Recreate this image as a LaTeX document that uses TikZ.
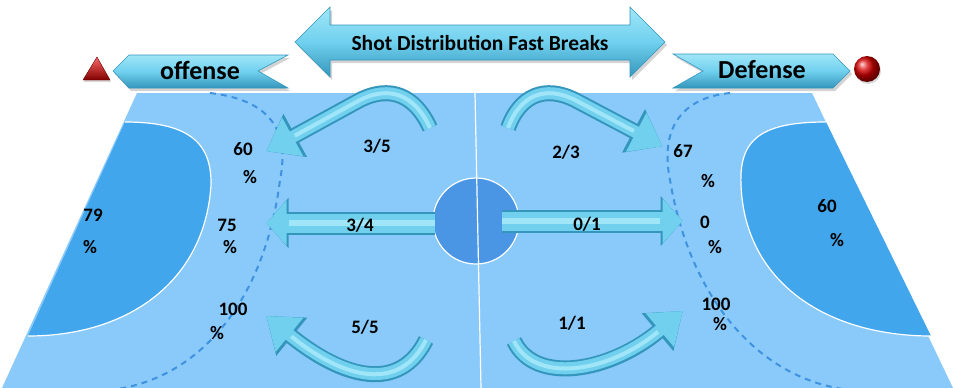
\documentclass[tikz,border=0pt]{standalone}
\usepackage{fontspec}
\setmainfont{Carlito}
\usetikzlibrary{arrows.meta,shadows}
\definecolor{court}{RGB}{138,202,250}
\definecolor{goal}{RGB}{66,166,236}
\definecolor{centre}{RGB}{74,150,228}
\definecolor{nine}{RGB}{62,146,224}
\definecolor{arrowlite}{RGB}{160,230,248}
\definecolor{arrowmid}{RGB}{112,208,238}
\definecolor{arrowedge}{RGB}{52,150,188}
\begin{document}
\begin{tikzpicture}[x=1pt,y=-1pt,
    banner/.style={top color=arrowlite,bottom color=arrowedge,middle color=arrowmid,
      draw=arrowedge,line width=.6pt,
      drop shadow={opacity=.35,shadow xshift=2pt,shadow yshift=-3pt}},
    fatcurve/.style={draw=arrowmid,line width=12pt,shorten >=1.5pt,
      -{Triangle[length=30pt,width=42pt]},
      preaction={draw=arrowedge,line width=16pt,-{Triangle[length=33pt,width=47pt]}},
      postaction={draw=arrowlite,line width=4pt,-,shorten >=34pt}},
    fatline/.style={draw=arrowmid,line width=19pt,shorten >=1.5pt,
      -{Triangle[length=20pt,width=44pt]},
      preaction={draw=arrowedge,line width=23pt,-{Triangle[length=22pt,width=49pt]}},
      postaction={draw=arrowlite,line width=6pt,-,shorten >=24pt}},
    num/.style={font=\fontsize{19}{21}\selectfont\bfseries},
    ribbon/.style={font=\fontsize{26}{28}\selectfont\bfseries}]
  \useasboundingbox (0,0) rectangle (953,388);
  \fill[court] (137,93) -- (812,93) -- (953,388) -- (2,388) -- cycle;
  \fill[goal] (125,122) .. controls (185,122) and (212,140) .. (211,185)
    .. controls (205,280) and (130,336) .. (28,336) -- cycle;
  \draw[white,line width=1.2pt] (125,122) .. controls (185,122) and (212,140) .. (211,185)
    .. controls (205,280) and (130,336) .. (28,336);
  \fill[goal] (826,122) .. controls (760,122) and (739,140) .. (741,185)
    .. controls (745,285) and (830,336) .. (931,336) -- cycle;
  \draw[white,line width=1.2pt] (826,122) .. controls (760,122) and (739,140) .. (741,185)
    .. controls (745,285) and (830,336) .. (931,336);
  \draw[nine,line width=2pt,dash pattern=on 6pt off 5pt]
    (210,93) .. controls (270,100) and (290,130) .. (280,180)
    .. controls (265,300) and (200,380) .. (110,390);
  \draw[nine,line width=2pt,dash pattern=on 6pt off 5pt]
    (730,93) .. controls (680,98) and (660,130) .. (670,180)
    .. controls (690,300) and (760,380) .. (850,390);
  \filldraw[fill=centre,draw=white,line width=1.2pt] (476,221) circle (43);
  \draw[white,line width=1.2pt] (475,93) -- (481,388);

  \shade[banner] (295,42) -- (330,7) -- (330,25) -- (630,25) -- (630,7) -- (665,42)
    -- (630,77) -- (630,60) -- (330,60) -- (330,77) -- cycle;
  \shade[banner] (113,71) -- (129,55) -- (288,55) -- (258,71) -- (288,88) -- (129,88) -- cycle;
  \shade[banner] (673,54) -- (833,54) -- (850,71) -- (833,88) -- (673,88) -- (703,71) -- cycle;
  \node[font=\fontsize{21.5}{24}\selectfont\bfseries] (title) at (480,43) {Shot Distribution Fast Breaks};
  \node[ribbon] (offense) at (200,70) {offense};
  \node[ribbon] (defense) at (762,70) {Defense};
  \shade[top color=red!60!white,bottom color=red!50!black,draw=red!40!black,line width=.4pt,
    drop shadow={opacity=.3,shadow xshift=1pt,shadow yshift=-2pt}]
    (83,80) -- (97,57) -- (110,80) -- cycle;
  \shade[ball color=red!85!black,drop shadow={opacity=.3,shadow xshift=1pt,shadow yshift=-2pt}]
    (867,69) circle (13);

  \coordinate (t35) at (430,128);  \coordinate (h35) at (265,152);
  \coordinate (t23) at (508,128);  \coordinate (h23) at (664,147);
  \coordinate (t34) at (435,223);  \coordinate (h34) at (265,223);
  \coordinate (t01) at (502,221);  \coordinate (h01) at (684,221);
  \coordinate (t55) at (426,340);  \coordinate (h55) at (265,315);
  \coordinate (t11) at (514,341);  \coordinate (h11) at (684,310);
  \draw[fatcurve] (t35) .. controls (415,95) and (390,85) .. (360,100) -- (h35);
  \draw[fatcurve] (t23) .. controls (520,95) and (545,85) .. (575,100) -- (h23);
  \draw[fatline] (t34) -- (h34);
  \draw[fatline] (t01) -- (h01);
  \draw[fatcurve] (t55) .. controls (400,392) and (345,380) .. (h55);
  \draw[fatcurve] (t11) .. controls (535,385) and (610,372) .. (h11);

  \node[num] (f35) at (377,146) {3/5};
  \node[num] (f23) at (566,152) {2/3};
  \node[num] (f34) at (360,225) {3/4};
  \node[num] (f01) at (587,224) {0/1};
  \node[num] (f55) at (365,327) {5/5};
  \node[num] (f11) at (572,323) {1/1};

  \node[num] (l79) at (93,215) {79};   \node[num] (l79p) at (90,247) {\%};
  \node[num] (l60) at (243,149) {60};  \node[num] (l60p) at (250,177) {\%};
  \node[num] (l75) at (227,225) {75};  \node[num] (l75p) at (230,247) {\%};
  \node[num] (l100) at (233,309) {100}; \node[num] (l100p) at (217,333) {\%};
  \node[num] (r67) at (683,151) {67};  \node[num] (r67p) at (708,181) {\%};
  \node[num] (r0) at (705,222) {0};    \node[num] (r0p) at (715,247) {\%};
  \node[num] (r100) at (716,304) {100}; \node[num] (r100p) at (720,324) {\%};
  \node[num] (r60) at (827,206) {60};  \node[num] (r60p) at (837,240) {\%};
\end{tikzpicture}
\end{document}
